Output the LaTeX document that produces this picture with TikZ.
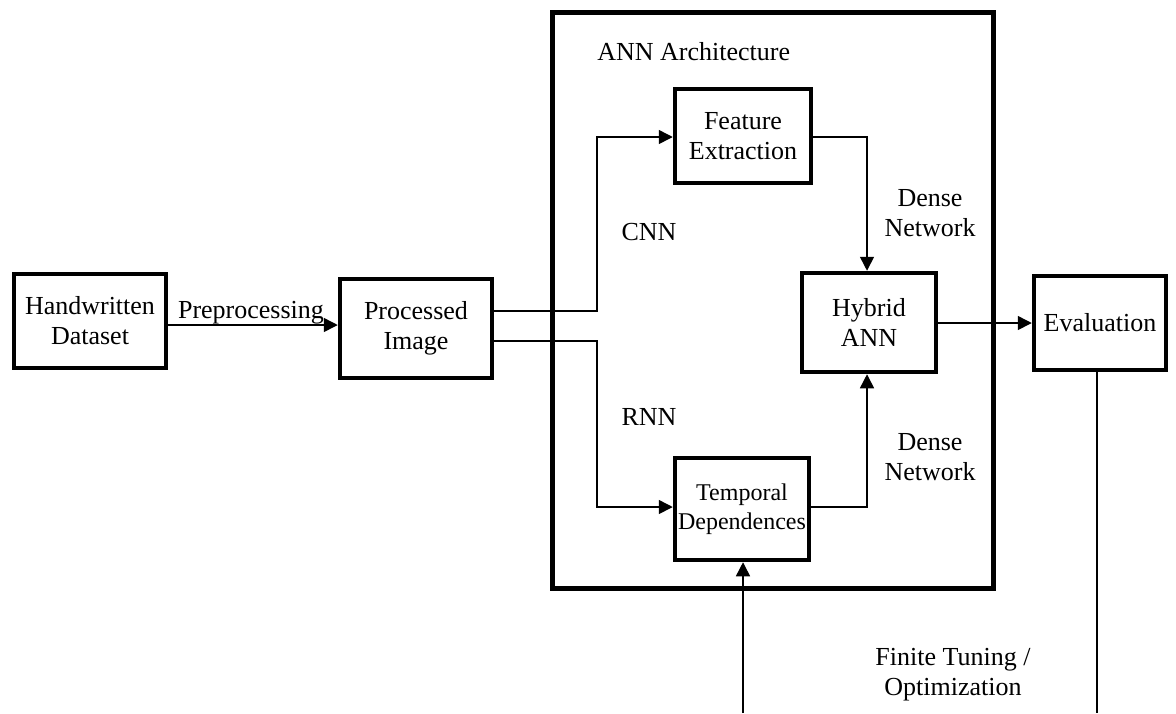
\documentclass[tikz,border=0pt]{standalone}
\usepackage{fontspec}
\setmainfont{Liberation Serif}
\usetikzlibrary{arrows.meta,calc}
\tikzset{
  box/.style={draw, line width=2.25pt, inner sep=0pt, align=center, font=\fontsize{13}{15}\selectfont},
  frame/.style={draw, line width=2.5pt, inner sep=0pt},
  conn/.style={line width=0.75pt},
  arr/.style={conn, -{Triangle[length=7pt,width=7pt]}},
  lbl/.style={inner sep=0pt, align=center, font=\fontsize{13}{15}\selectfont},
}
\begin{document}
\begin{tikzpicture}[x=0.5pt,y=-0.5pt]
\useasboundingbox (0,0) rectangle (1176,713);
% frame
\node[frame, minimum width=220.5pt, minimum height=288pt] (ann) at (772.5,300) {};
% boxes
\node[box, minimum width=76pt, minimum height=47pt] (hd) at (90,321) {Handwritten\\Dataset};
\node[box, minimum width=76pt, minimum height=49.5pt] (pi) at (416,328.5) {Processed\\Image};
\node[box, minimum width=68pt, minimum height=47pt] (fe) at (743,136) {Feature\\Extraction};
\node[box, minimum width=67pt, minimum height=49.5pt] (hy) at (869,322.5) {Hybrid\\ANN};
\node[box, minimum width=67pt, minimum height=51pt, font=\fontsize{12}{14.5}\selectfont] (td) at (742,509) {Temporal\\Dependences};
\node[box, minimum width=66pt, minimum height=47pt] (ev) at (1100,323) {Evaluation};
% helper coordinates
\coordinate (yPre) at (0,325);
\coordinate (yCnn) at (0,311);
\coordinate (yRnn) at (0,341);
\coordinate (xSplit) at (597,0);
\coordinate (yFe) at (0,137);
\coordinate (yTd) at (0,507);
\coordinate (xHy) at (867,0);
\coordinate (yOut) at (0,323);
\coordinate (tdIn) at (743,713);
\coordinate (evOut) at (1097,713);
% connectors
\draw[arr] (hd.east |- yPre) -- (pi.west |- yPre);
\draw[arr] (pi.east |- yCnn) -- (xSplit |- yCnn) -- (xSplit |- yFe) -- (fe.west |- yFe);
\draw[arr] (pi.east |- yRnn) -- (xSplit |- yRnn) -- (xSplit |- yTd) -- (td.west |- yTd);
\draw[arr] (fe.east |- yFe) -- (xHy |- yFe) -- (xHy |- hy.north);
\draw[arr] (td.east |- yTd) -- (xHy |- yTd) -- (xHy |- hy.south);
\draw[arr] (hy.east |- yOut) -- (ev.west |- yOut);
\draw[arr] (tdIn) -- (tdIn |- td.south);
\draw[conn] (evOut |- ev.south) -- (evOut);
% labels
\node[lbl, anchor=base] (lpre) at (251,318) {Preprocessing};
\node[lbl, anchor=base west] (lann) at (597,60) {ANN Architecture};
\node[lbl, anchor=base] (lcnn) at (649,240) {CNN};
\node[lbl, anchor=base] (lrnn) at (649,425) {RNN};
\node[lbl] (ld1) at (930,213) {Dense\\Network};
\node[lbl] (ld2) at (930,457) {Dense\\Network};
\node[lbl] (lft) at (953,675) {Finite Tuning /\\Optimization};
\end{tikzpicture}
\end{document}
